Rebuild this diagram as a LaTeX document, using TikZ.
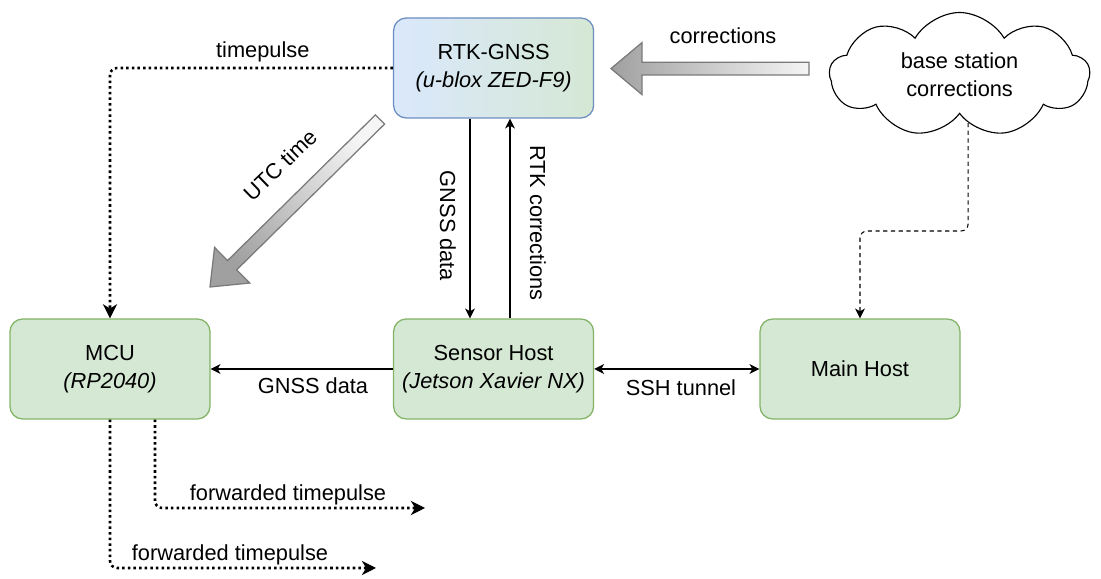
\documentclass[tikz,border=0pt]{standalone}
\usepackage{fontspec}
\setmainfont{Liberation Sans}
\usetikzlibrary{shapes.symbols,arrows.meta}

\definecolor{hostfill}{HTML}{D5E8D4}
\definecolor{hostline}{HTML}{82B366}
\definecolor{gnssfill}{HTML}{DAE8FC}
\definecolor{gnssline}{HTML}{6C8EBF}
\definecolor{arrowlight}{HTML}{F5F5F5}
\definecolor{arrowdark}{HTML}{A0A0A0}
\definecolor{arrowline}{HTML}{7A7A7A}

\begin{document}
\begin{tikzpicture}[
    unit/.style={rectangle, rounded corners=9pt, draw=hostline, fill=hostfill, line width=0.9pt,
                 minimum width=5cm, minimum height=2.5cm, align=center,
                 font=\fontsize{15.5}{19.5}\selectfont},
    lbl/.style={font=\fontsize{15.5}{19.5}\selectfont, inner sep=1pt},
    >={Stealth[length=7pt,width=7pt,inset=2pt]},
    data/.style={line width=0.75pt, ->},
    pulse/.style={line width=1.8pt, dash pattern=on 1.8pt off 2.2pt, rounded corners=5pt,
                  -{Stealth[length=10pt,width=10pt,inset=3pt]}},
    feed/.style={line width=0.75pt, dash pattern=on 3pt off 2.5pt, rounded corners=5pt, ->},
    bigarrow/.style={draw=arrowline, line width=0.9pt}]
\useasboundingbox (0,0) rectangle (27.525,14.475);

% boxes
\node[unit, draw=gnssline, left color=gnssfill, right color=hostfill] (rtk) at (12.34,12.775)
     {RTK-GNSS\\ \textit{(u-blox ZED-F9)}};
\node[unit] (mcu) at (2.75,5.25) {MCU\\ \textit{(RP2040)}};
\node[unit] (sensor) at (12.34,5.25) {Sensor Host\\ \textit{(Jetson Xavier NX)}};
\node[unit] (main) at (21.5,5.25) {Main Host};
\node[cloud, draw, line width=0.8pt, cloud puffs=9, cloud puff arc=120, aspect=1.9,
      minimum width=6.5cm, minimum height=3.1cm, align=center,
      font=\fontsize{15.5}{19.5}\selectfont] (base) at (23.99,12.61) {base station\\ corrections};

% wide arrows
\shade[bigarrow, top color=arrowlight, bottom color=arrowdark, shading angle=-90]
      (15.275,12.76) -- (16.05,13.41) -- (16.05,12.92) -- (20.225,12.92)
      -- (20.225,12.60) -- (16.05,12.60) -- (16.05,12.11) -- cycle;
\node[lbl] (corrlbl) at (18.075,13.575) {corrections};

\shade[bigarrow, top color=arrowlight, bottom color=arrowdark, shading angle=-45]
      (5.25,7.30) -- (5.364,8.289) -- (5.688,7.960) -- (9.386,11.603)
      -- (9.614,11.372) -- (5.916,7.728) -- (6.241,7.399) -- cycle;
\node[lbl, rotate=44] (utclbl) at (7.0,10.35) {UTC time};

% timepulse
\draw[pulse] (rtk.west) -| (mcu.north) node[lbl, pos=0.23, above=2pt] (tplbl) {timepulse};

% data links
\draw[data] ([xshift=-0.59cm]rtk.south) -- ([xshift=-0.59cm]sensor.north);
\draw[data] ([xshift=0.41cm]sensor.north) -- ([xshift=0.41cm]rtk.south);
\node[lbl, rotate=-90] (gnsslbl) at (11.2,8.825) {GNSS data};
\node[lbl, rotate=-90] (rtklbl) at (13.45,8.9) {RTK corrections};

\draw[data] (sensor.west) -- (mcu.west -| mcu.east);
\node[lbl] (datalbl) at (7.825,4.825) {GNSS data};
\draw[data, <->] (sensor.east) -- (main.west);
\node[lbl] (sshlbl) at (17.025,4.775) {SSH tunnel};

% correction feed
\draw[feed] (base.-80) -- (base.-80 |- 0,8.7) -| (main.north);

% forwarded pulses
\coordinate (fwda) at (10.625,1.775);
\coordinate (fwdb) at (9.4,0.275);
\draw[pulse] ([xshift=1.125cm]mcu.south) |- (fwda);
\node[lbl] (fwdalbl) at (7.2,2.1) {forwarded timepulse};
\draw[pulse] (mcu.south) |- (fwdb);
\node[lbl] (fwdblbl) at (5.75,0.6) {forwarded timepulse};

\end{tikzpicture}
\end{document}
